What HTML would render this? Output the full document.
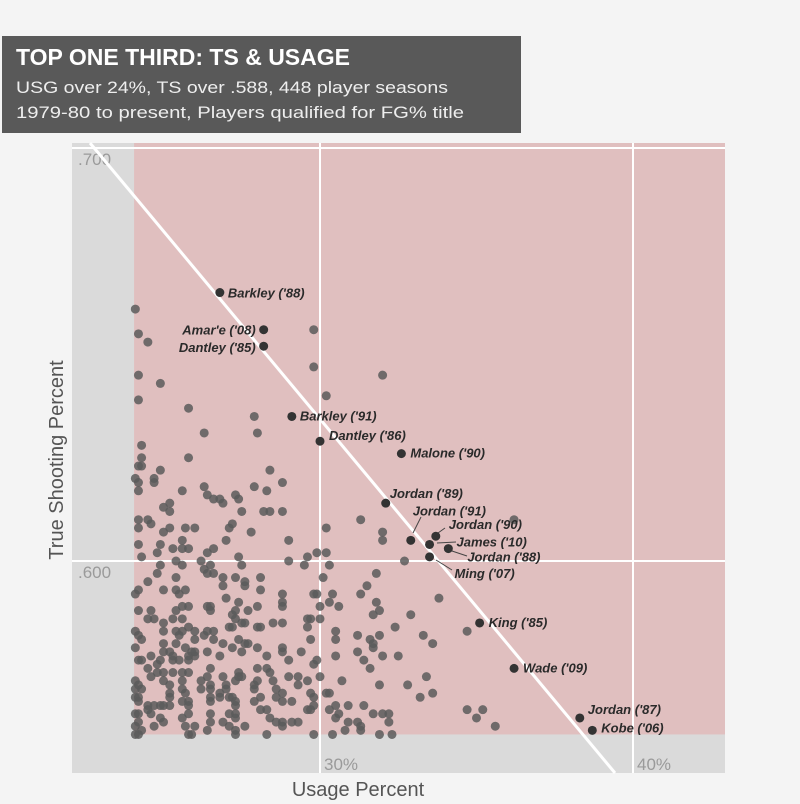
<!DOCTYPE html>
<html><head><meta charset="utf-8"><style>
html,body{margin:0;padding:0;background:#f4f4f4;}
svg{display:block;font-family:"Liberation Sans",sans-serif;}
</style></head><body>
<svg id="chart" width="800" height="804">
<rect x="0" y="0" width="800" height="804" fill="#f4f4f4"/>
<g>
<rect x="2" y="36" width="519" height="97" fill="#595959"/>
<text x="16" y="65" font-size="23" font-weight="bold" fill="#fff" textLength="334" lengthAdjust="spacingAndGlyphs">TOP ONE THIRD: TS &amp; USAGE</text>
<text x="16" y="93" font-size="17" fill="#eee" textLength="432" lengthAdjust="spacingAndGlyphs">USG over 24%, TS over .588, 448 player seasons</text>
<text x="16" y="118" font-size="17" fill="#eee" textLength="448" lengthAdjust="spacingAndGlyphs">1979-80 to present, Players qualified for FG% title</text>
</g>
<g id="plot"></g>
<text x="358" y="796" font-size="20" fill="#555" text-anchor="middle">Usage Percent</text>
<text x="0" y="0" font-size="20" fill="#555" text-anchor="middle" transform="translate(63,460) rotate(-90)">True Shooting Percent</text>
</svg>
<script>
// data
const usg = [24.1,24.2,24.5,29.8,24.2,24.9,29.8,32.0,24.2,30.2,25.8,27.9,26.3,28.0,24.3,24.3,25.8,24.2,24.3,24.9,28.4,24.1,24.7,24.2,24.7,28.8,24.2,25.6,26.3,26.4,26.6,26.8,26.9,27.3,27.4,27.9,28.3,27.5,28.2,28.4,28.8,25.0,25.2,25.2,24.2,24.5,24.2,24.6,25.0,25.2,25.7,26.0,27.1,27.2,27.8,30.2,31.3,32.0,32.0,24.2,24.9,25.6,25.3,25.6,25.8,26.4,26.6,27.0,29.0,24.3,24.8,27.4,29.9,30.2,29.6,29.0,25.4,25.6,24.9,26.2,26.3,26.4,26.5,26.6,27.5,29.5,30.3,32.7,24.8,25.4,24.5,24.1,24.2,25.0,25.4,25.7,25.5,26.9,26.9,27.3,27.6,27.6,28.1,28.1,28.8,28.8,28.8,29.8,29.9,30.1,30.4,30.3,30.6,30.0,31.8,31.5,31.3,31.8,31.9,31.7,32.9,33.8,27.0,27.4,28.0,27.7,27.3,27.2,27.3,27.5,27.6,26.5,26.4,26.5,24.2,24.6,24.5,24.7,25.3,25.6,25.4,25.6,25.8,25.0,24.1,24.2,24.3,24.1,25.0,25.4,25.6,25.5,25.8,26.0,26.4,26.6,26.0,26.3,26.6,26.9,27.2,27.1,27.2,28.0,28.1,28.5,28.8,29.6,29.7,30.0,29.6,29.7,30.5,30.5,31.2,31.6,31.7,31.7,31.9,32.4,33.3,33.6,25.0,25.4,25.7,25.0,25.2,25.9,26.0,26.4,27.4,27.6,27.7,28.0,27.5,28.3,28.8,28.8,29.0,29.4,30.5,31.2,31.4,32.0,32.5,24.2,24.3,24.6,24.9,24.8,25.3,25.3,25.5,25.8,25.8,26.0,26.8,24.5,24.8,24.6,25.0,25.3,25.6,25.8,26.5,26.4,26.2,26.9,27.4,27.4,27.5,28.0,28.3,28.4,28.5,29.0,29.3,29.6,29.8,29.9,30.0,30.7,31.6,31.9,32.8,33.4,24.1,24.2,24.3,24.1,25.0,25.2,25.6,25.6,25.7,25.2,26.2,26.5,26.5,27.0,27.0,27.3,27.9,28.0,27.9,28.6,28.8,29.3,29.7,30.2,30.3,24.1,24.2,24.2,24.5,24.7,24.9,25.0,25.2,25.2,25.6,25.8,25.8,26.5,26.5,26.8,26.8,27.1,27.2,27.3,27.3,27.9,28.1,28.6,28.8,29.1,29.8,29.8,30.5,30.9,31.4,33.2,33.6,24.1,24.2,24.5,24.6,24.9,25.0,25.6,25.8,26.5,26.5,27.1,27.3,27.3,28.1,28.3,28.4,28.6,28.8,29.1,29.3,29.6,29.7,30.3,30.6,30.5,30.9,31.2,31.7,32.0,32.2,32.2,24.1,24.2,24.3,24.7,25.7,26.0,25.9,25.8,26.4,26.9,27.1,27.3,27.6,28.3,28.8,29.8,30.4,30.8,31.3,31.3,31.9,32.3,24.1,24.2,27.3,34.7,35.2,34.7,35.0,35.6,36.2];
const ts = [.661,.655,.653,.656,.645,.643,.647,.645,.639,.640,.637,.635,.631,.631,.628,.625,.625,.623,.623,.622,.622,.620,.620,.619,.619,.619,.617,.617,.618,.616,.615,.615,.614,.616,.615,.618,.617,.612,.612,.612,.612,.613,.614,.612,.610,.610,.608,.609,.607,.608,.608,.608,.608,.609,.607,.608,.610,.607,.605,.604,.604,.605,.603,.603,.603,.602,.603,.605,.605,.601,.602,.601,.602,.602,.601,.600,.600,.599,.599,.600,.598,.597,.599,.597,.599,.599,.599,.600,.597,.596,.595,.592,.593,.593,.593,.593,.592,.596,.594,.596,.595,.594,.596,.593,.592,.590,.589,.592,.592,.596,.592,.590,.589,.589,.597,.594,.592,.590,.588,.587,.587,.591,.591,.590,.589,.588,.588,.587,.586,.585,.585,.589,.589,.588,.588,.588,.586,.586,.586,.586,.588,.589,.589,.585,.583,.582,.581,.579,.583,.583,.583,.582,.584,.583,.583,.583,.581,.582,.581,.580,.579,.584,.584,.584,.584,.585,.585,.586,.586,.586,.584,.581,.583,.581,.582,.581,.580,.579,.582,.584,.582,.580,.580,.580,.579,.578,.578,.578,.578,.578,.581,.580,.580,.579,.578,.577,.579,.578,.576,.578,.577,.578,.576,.577,.577,.576,.576,.577,.576,.575,.577,.576,.576,.577,.576,.577,.577,.574,.573,.572,.573,.573,.573,.573,.574,.572,.571,.572,.573,.572,.572,.574,.574,.573,.571,.572,.572,.571,.575,.576,.572,.571,.574,.570,.570,.572,.571,.570,.569,.569,.571,.570,.571,.569,.568,.568,.569,.569,.570,.570,.569,.571,.570,.571,.569,.569,.568,.570,.568,.568,.568,.567,.567,.566,.565,.565,.565,.565,.567,.565,.566,.566,.565,.567,.566,.568,.567,.567,.567,.566,.565,.566,.567,.567,.566,.566,.567,.565,.565,.565,.565,.567,.568,.563,.563,.564,.563,.562,.561,.562,.563,.563,.561,.563,.563,.562,.564,.564,.562,.561,.561,.561,.561,.564,.564,.564,.563,.562,.561,.561,.563,.563,.563,.561,.560,.561,.559,.560,.560,.560,.558,.558,.559,.561,.560,.559,.560,.558,.560,.558,.558,.559,.560,.559,.558,.558,.558,.558,.558,.583,.564,.564,.562,.560,.610];
const hlNames = ["Barkley ('88)","Amar'e ('08)","Dantley ('85)","Barkley ('91)","Dantley ('86)","Malone ('90)","Jordan ('89)","Jordan ('91)","Jordan ('90)","James ('10)","Jordan ('88)","Ming ('07)","King ('85)","Wade ('09)","Jordan ('87)","Kobe ('06)"];
const hlUsg = [26.8,28.2,28.2,29.1,30.0,32.6,32.1,32.9,33.7,33.5,34.1,33.5,35.1,36.2,38.3,38.7];
const hlTs = [.665,.656,.652,.635,.629,.626,.614,.605,.606,.604,.603,.601,.585,.574,.562,.559];
const xTicks = [30,40];
const xTickLabels = ["30%","40%"];
const yTicks = [.6,.7];
const yTickLabels = [".600",".700"];
const thresholdUsg = 24.06;
const thresholdTs = .558;

const NS = "http://www.w3.org/2000/svg";
const plot = document.getElementById('plot');
function xs(u){return 320 + (u-30)*31.3;}
function ys(t){return 561 - (t-0.6)*4130;}
function mk(tag, attrs){const e=document.createElementNS(NS,tag);for(const k in attrs)e.setAttribute(k,attrs[k]);plot.appendChild(e);return e;}

let e = mk('rect',{x:72,y:143,width:653,height:630,fill:'#dadada'});


e = mk('rect',{x:xs(thresholdUsg),y:143,width:725-xs(thresholdUsg),height:ys(thresholdTs)-143,fill:'#e0bfbf'});


xTicks.forEach((v,i)=>{
  const g = mk('line',{x1:xs(v),x2:xs(v),y1:143,y2:773,stroke:'#fff','stroke-width':2});
  
  
  const t = mk('text',{x:xs(v)+4,y:770,'font-size':17,fill:'#9a9a9a'});
  t.textContent = xTickLabels[i];
  
  
});
yTicks.forEach((v,i)=>{
  const g = mk('line',{x1:72,x2:725,y1:ys(v),y2:ys(v),stroke:'#fff','stroke-width':2});
  
  
  const t = mk('text',{x:78,y:ys(v)+17,'font-size':17,fill:'#9a9a9a'});
  t.textContent = yTickLabels[i];
  
  
});
e = mk('line',{x1:90,y1:143,x2:615,y2:773,stroke:'#fff','stroke-width':3});



for(let i=0;i<usg.length;i++){
  const c = mk('circle',{cx:xs(usg[i]),cy:ys(ts[i]),r:4.5,fill:'#5a5a5a','fill-opacity':0.85});
  
  
}
const labelPos = [[8,5,'start'],[-8,5,'end'],[-8,6,'end'],[8,4,'start'],[9,-1,'start'],[9,4,'start'],[4,-5,'start'],[2,-25,'start'],[13,-7,'start'],[27,2,'start'],[19,13,'start'],[25,21,'start'],[9,4,'start'],[9,4,'start'],[8,-4,'start'],[9,2,'start']];
const leaders = {7:[[421,517],[413,533]],8:[[445,528],[438,533]],9:[[437,543],[456,542]],10:[[452,551],[467,556]],11:[[436,560],[452,570]]};
for(let i=0;i<hlNames.length;i++){
  const cx=xs(hlUsg[i]), cy=ys(hlTs[i]);
  if(leaders[i]){
    const L = mk('line',{x1:leaders[i][0][0],y1:leaders[i][0][1],x2:leaders[i][1][0],y2:leaders[i][1][1],stroke:'#444','stroke-width':1});
    
    
  }
  const c = mk('circle',{cx:cx,cy:cy,r:4.5,fill:'#333'});
  
  
  const p = labelPos[i];
  const t = mk('text',{x:cx+p[0],y:cy+p[1],'text-anchor':p[2],'font-size':13,'font-weight':'bold','font-style':'italic',fill:'#2a2a2a'});
  t.textContent = hlNames[i];
  
  
}
</script>
</body></html>
